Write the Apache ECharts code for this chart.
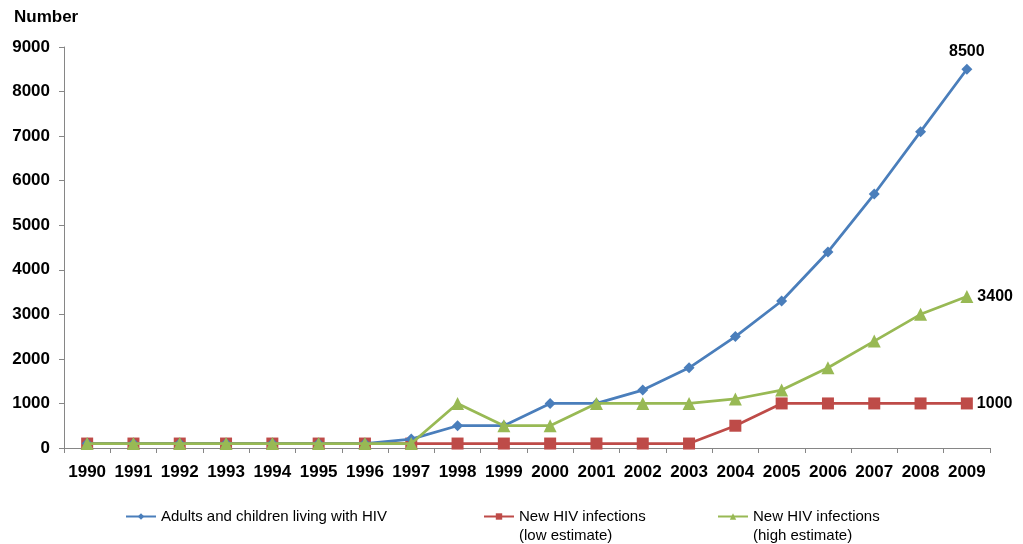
<!DOCTYPE html>
<html><head><meta charset="utf-8">
<script src="https://cdn.jsdelivr.net/npm/echarts@6/dist/echarts.min.js"></script>
<style>html,body{margin:0;padding:0;background:#fff}#c{width:1023px;height:544px}</style>
</head><body><div id="c"></div>
<script>
const years = ['1990','1991','1992','1993','1994','1995','1996','1997','1998','1999','2000','2001','2002','2003','2004','2005','2006','2007','2008','2009'];
const living = [100,100,100,100,100,100,100,200,500,500,1000,1000,1300,1800,2500,3300,4400,5700,7100,8500];
const newLow = [100,100,100,100,100,100,100,100,100,100,100,100,100,100,500,1000,1000,1000,1000,1000];
const newHigh = [100,100,100,100,100,100,100,100,1000,500,500,1000,1000,1000,1100,1300,1800,2400,3000,3400];
const names = ['Adults and children living with HIV','New HIV infections\n(low estimate)','New HIV infections\n(high estimate)'];

const font = 'Liberation Sans, Arial, sans-serif';
function lastLabel(pos, data){
  return {show:true, position:pos, distance:4, fontFamily:font, fontWeight:'bold', fontSize:16, color:'#000',
    formatter:p => p.dataIndex === data.length-1 ? String(p.value) : ''};
}
const legText = {fontFamily:font, fontSize:15, color:'#000'};
// first-line legends with icons
function legendAt(left, i){
  return {left:left, top:509, padding:0, itemWidth:30, itemHeight:8, itemGap:0,
    data:[names[i]], textStyle:legText,
    formatter:n => n.split('\n')[0]};
}
// second-line legends without icons
function legendLine2(left, i){
  return {left:left, top:528, padding:0, itemWidth:30, itemHeight:8, itemGap:0,
    data:[{name:names[i], itemStyle:{opacity:0}, lineStyle:{opacity:0}}], textStyle:legText,
    formatter:n => n.split('\n')[1], selectedMode:false};
}
const chart = echarts.init(document.getElementById('c'));
chart.setOption({
  animation:false,
  grid:{left:64,right:33,top:47,bottom:96},
  title:{text:'Number',left:9,top:4,textStyle:{fontFamily:font,fontWeight:'bold',fontSize:17,color:'#000'}},
  legend:[legendAt(125,0), legendAt(483,1), legendAt(717,2), legendLine2(483,1), legendLine2(717,2)],
  xAxis:{type:'category',data:years,boundaryGap:true,
    axisLine:{lineStyle:{color:'#868686'}},
    axisTick:{show:true,interval:0,length:5,lineStyle:{color:'#868686'}},
    axisLabel:{interval:0,margin:16,fontFamily:font,fontWeight:'bold',fontSize:17,color:'#000'}},
  yAxis:{type:'value',min:0,max:9000,interval:1000,
    splitLine:{show:false},
    axisLine:{show:true,lineStyle:{color:'#868686'}},
    axisTick:{show:true,length:5,lineStyle:{color:'#868686'}},
    axisLabel:{margin:14,fontFamily:font,fontWeight:'bold',fontSize:17,color:'#000',formatter:v=>String(v)}},
  series:[
    {name:names[0],type:'line',data:living,symbol:'diamond',symbolSize:11,
     lineStyle:{color:'#4a7ebb',width:2.75},itemStyle:{color:'#4a7ebb'},z:3,
     label:lastLabel('top',living)},
    {name:names[1],type:'line',data:newLow,symbol:'rect',symbolSize:12,
     lineStyle:{color:'#be4b48',width:2.75},itemStyle:{color:'#be4b48'},z:2,
     label:lastLabel('right',newLow)},
    {name:names[2],type:'line',data:newHigh,symbol:'triangle',symbolSize:13,
     lineStyle:{color:'#98b954',width:2.75},itemStyle:{color:'#98b954'},z:4,
     label:lastLabel('right',newHigh)}
  ]
});
</script></body></html>
